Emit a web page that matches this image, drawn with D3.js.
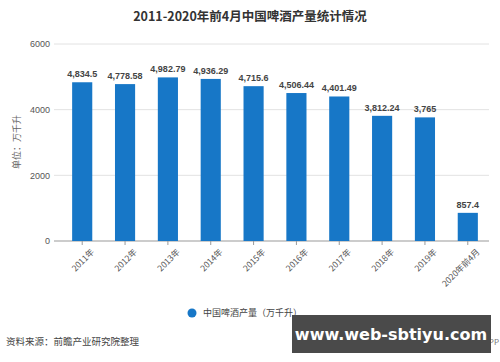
<!DOCTYPE html>
<html>
<head>
<meta charset="utf-8">
<script src="https://cdn.jsdelivr.net/npm/d3@7"></script>
<style>
  body { margin: 0; background: #fff; }
  text { font-family: "Noto Sans CJK SC", "Noto Sans", sans-serif; }
</style>
</head>
<body>
<div id="chart"></div>
<script>
// data
var years = ["2011年", "2012年", "2013年", "2014年", "2015年", "2016年", "2017年", "2018年", "2019年", "2020年前4月"];
var output = [4834.5, 4778.58, 4982.79, 4936.29, 4715.6, 4506.44, 4401.49, 3812.24, 3765, 857.4];
var valueLabels = ["4,834.5", "4,778.58", "4,982.79", "4,936.29", "4,715.6", "4,506.44", "4,401.49", "3,812.24", "3,765", "857.4"];
var yTicks = [0, 2000, 4000, 6000];

var svgWidth = 500;
var svgHeight = 362;

var svg = d3.select("#chart")
    .append("svg")
    .attr("width", svgWidth)
    .attr("height", svgHeight);

// title
svg.append("text")
    .attr("x", 250)
    .attr("y", 21)
    .attr("text-anchor", "middle")
    .style("font-size", "12.5px")
    .style("font-weight", "bold")
    .style("fill", "#333")
    .text("2011-2020年前4月中国啤酒产量统计情况");

// scales
var xScale = d3.scaleBand()
    .domain(years)
    .range([61, 489])
    .paddingInner(0.53)
    .paddingOuter(0.26);

var yScale = d3.scaleLinear()
    .domain([0, 6000])
    .range([241, 44]);

// gridlines
svg.append("g")
    .selectAll("line")
    .data(yTicks)
    .enter()
    .append("line")
    .attr("x1", 54)
    .attr("x2", 489)
    .attr("y1", function(d) { return yScale(d); })
    .attr("y2", function(d) { return yScale(d); })
    .attr("stroke", function(d) { return d === 0 ? "#999" : "#e2e2e2"; })
    .attr("stroke-width", 1);

// y axis labels
var leftAxis = d3.axisLeft(yScale).tickValues(yTicks).tickFormat(d3.format("d")).tickSize(0).tickPadding(0);
var yAxisG = svg.append("g")
    .attr("transform", "translate(50,0)")
    .call(leftAxis);
yAxisG.select(".domain").remove();
yAxisG.selectAll("text")
    .style("font-size", "9px")
    .style("fill", "#555")
    .style("font-family", "'Liberation Sans', sans-serif");

// y axis title
svg.append("text")
    .attr("transform", "translate(20,142) rotate(-90)")
    .attr("text-anchor", "middle")
    .style("font-size", "9px")
    .style("fill", "#666")
    .text("单位：万千升");

// bars
svg.append("g")
    .selectAll("rect")
    .data(output)
    .enter()
    .append("rect")
    .attr("x", function(d, i) { return xScale(years[i]); })
    .attr("y", function(d) { return yScale(d); })
    .attr("width", xScale.bandwidth())
    .attr("height", function(d) { return yScale(0) - yScale(d); })
    .attr("fill", "#1777c7");

// value labels
svg.append("g")
    .selectAll("text")
    .data(output)
    .enter()
    .append("text")
    .attr("x", function(d, i) { return xScale(years[i]) + xScale.bandwidth() / 2; })
    .attr("y", function(d) { return yScale(d) - 5; })
    .attr("text-anchor", "middle")
    .style("font-size", "9px")
    .style("font-weight", "bold")
    .style("fill", "#444")
    .style("font-family", "'Liberation Sans', sans-serif")
    .text(function(d, i) { return valueLabels[i]; });

// x axis
var bottomAxis = d3.axisBottom(xScale).tickSize(4).tickPadding(3);
var xAxisG = svg.append("g")
    .attr("transform", "translate(0,241)")
    .call(bottomAxis);
xAxisG.select(".domain").remove();
xAxisG.selectAll(".tick line").attr("stroke", "#999");
xAxisG.selectAll("text")
    .attr("text-anchor", "end")
    .attr("transform", "translate(4,3) rotate(-45)")
    .attr("dy", "0.6em")
    .style("font-size", "8.5px")
    .style("fill", "#555");

// legend
svg.append("circle")
    .attr("cx", 192)
    .attr("cy", 313)
    .attr("r", 4.5)
    .attr("fill", "#1777c7");
svg.append("text")
    .attr("x", 203)
    .attr("y", 316)
    .style("font-size", "9px")
    .style("fill", "#444")
    .text("中国啤酒产量（万千升）");

// source note
svg.append("text")
    .attr("x", 6)
    .attr("y", 345)
    .style("font-size", "9.5px")
    .style("fill", "#444")
    .text("资料来源：前瞻产业研究院整理");

// app credit, mostly hidden under the overlay box as in the reference
svg.append("text")
    .attr("x", 499)
    .attr("y", 345)
    .attr("text-anchor", "end")
    .style("font-size", "8px")
    .style("fill", "#777")
    .text("@前瞻经济学人APP");

// overlay box at the bottom right
svg.append("rect")
    .attr("x", 292)
    .attr("y", 315)
    .attr("width", 199)
    .attr("height", 38)
    .attr("fill", "#4a4a4a");
svg.append("text")
    .attr("x", 391)
    .attr("y", 340)
    .attr("text-anchor", "middle")
    .style("font-size", "16px")
    .style("font-weight", "bold")
    .style("fill", "#fff")
    .style("font-family", "'DejaVu Sans', sans-serif")
    .text("www.web-sbtiyu.com");
</script>
</body>
</html>
